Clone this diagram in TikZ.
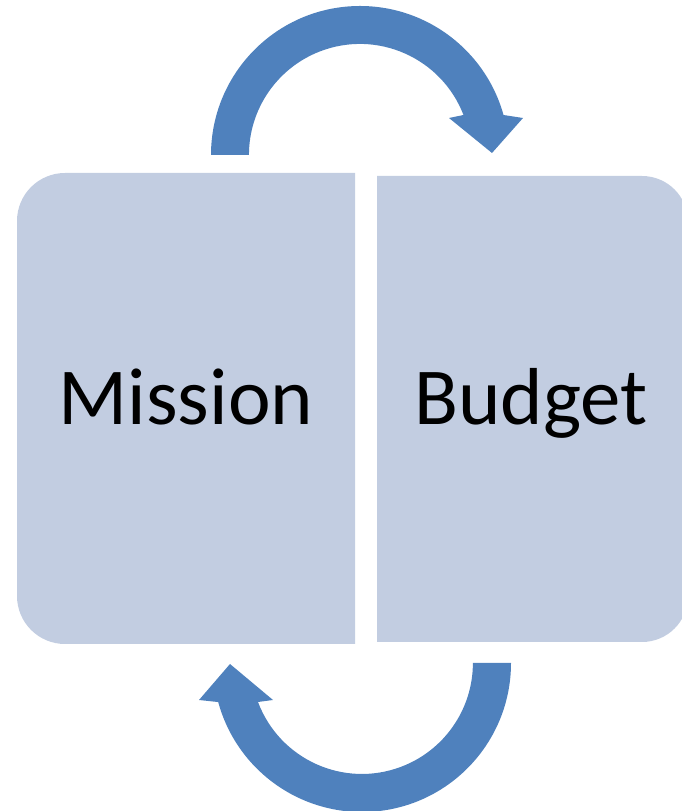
\documentclass[tikz,border=0pt]{standalone}
\usepackage{fontspec}
\setmainfont{Carlito}
\usepackage{tikz}

\definecolor{arrowblue}{RGB}{79,129,189}
\definecolor{boxblue}{RGB}{194,205,225}

\begin{document}
\begin{tikzpicture}[x=0.02cm,y=0.02cm,
                    box/.style={fill=boxblue},
                    turn/.style={fill=arrowblue},
                    word node/.style={anchor=base,font=\fontsize{46}{55}\selectfont}]
       \useasboundingbox (0,0) rectangle (682,811);

       % the two halves
       \fill[box] (355,167) -- (65,167) arc[start angle=270,end angle=180,radius=48]
          -- (17,590) arc[start angle=180,end angle=90,radius=48] -- (355,638) -- cycle;
       \fill[box] (377,169) -- (642,169) arc[start angle=-90,end angle=0,radius=46]
          -- (688,589) arc[start angle=0,end angle=90,radius=46] -- (377,635) -- cycle;

       % the turning arrows
       \fill[turn] (211,656) arc[start angle=180,end angle=15.57,radius=149]
          -- (523,693) -- (492,658) -- (449,693) -- (463.5,696)
          arc[start angle=21.1,end angle=180,radius=111] -- cycle;
       \fill[turn] (511,148) arc[start angle=0,end angle=-164.8,radius=149]
          -- (199,111) -- (230,147) -- (273,111) -- (258,109)
          arc[start angle=-159.4,end angle=0,radius=111] -- cycle;

       \node[word node] (mission) at (186,386) {Mission};
       \node[word node] (budget) at (531,386) {Budget};

\end{tikzpicture}
\end{document}
